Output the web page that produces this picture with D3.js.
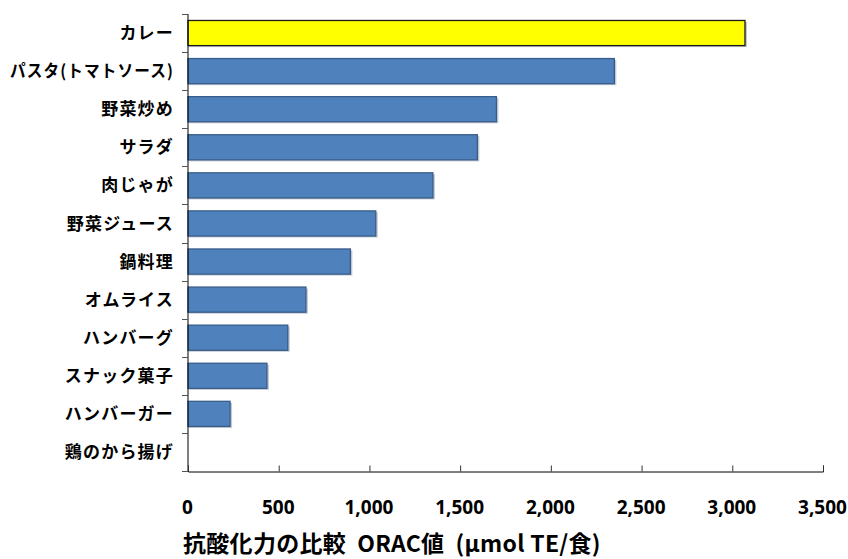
<!DOCTYPE html>
<html>
<head>
<meta charset="utf-8">
<script src="https://cdn.jsdelivr.net/npm/d3@7"></script>
<style>
  body { margin: 0; background: #fff; }
  svg { display: block; }
  .cat text { font-family: "Noto Sans CJK JP", sans-serif; font-weight: bold; font-size: 17px; letter-spacing: 1.2px; fill: #000; }
  .num text { font-family: "Open Sans", sans-serif; font-weight: bold; font-size: 19px; fill: #000; }
  .title { font-family: "Noto Sans CJK JP", sans-serif; font-weight: bold; font-size: 23px; letter-spacing: 0.3px; white-space: pre; }
</style>
</head>
<body>
<div id="chart"></div>
<script>
// data
const foods = ["カレー", "パスタ(トマトソース)", "野菜炒め", "サラダ", "肉じゃが", "野菜ジュース",
               "鍋料理", "オムライス", "ハンバーグ", "スナック菓子", "ハンバーガー", "鶏のから揚げ"];
const orac = [3070, 2350, 1700, 1595, 1350, 1035, 895, 650, 550, 435, 232, 0];
const xTicks = [0, 500, 1000, 1500, 2000, 2500, 3000, 3500];
const highlight = "カレー";

const W = 848, H = 559;
const mLeft = 188, mRight = 823, mTop = 14, mBottom = 471;

const svg = d3.select("#chart").append("svg")
    .attr("width", W)
    .attr("height", H);

const x = d3.scaleLinear().domain([0, 3500]).range([mLeft, mRight]);
const y = d3.scaleBand().domain(foods).range([mTop, mBottom]).paddingInner(0.34).paddingOuter(0.17);

// soft shadow behind the bars
svg.append("g").selectAll("rect").data(foods).enter()
    .filter((d, i) => orac[i] > 0)
    .append("rect")
    .attr("x", mLeft + 1)
    .attr("y", d => y(d) + 1.5)
    .attr("width", (d, i) => x(orac[i]) - mLeft + 1)
    .attr("height", y.bandwidth())
    .attr("fill", "#c4cad3");

svg.append("g").selectAll("rect").data(foods).enter()
    .filter((d, i) => orac[i] > 0)
    .append("rect")
    .attr("x", mLeft)
    .attr("y", d => y(d))
    .attr("width", (d, i) => x(orac[i]) - mLeft)
    .attr("height", y.bandwidth())
    .attr("fill", d => d == highlight ? "#ffff00" : "#4f81bd")
    .attr("stroke", d => d == highlight ? "#1a1a1a" : "#385d8a")
    .attr("stroke-width", 1.3);

// y axis: ticks on band boundaries
const yax = svg.append("g").attr("class", "cat");
yax.append("line")
    .attr("x1", mLeft).attr("x2", mLeft)
    .attr("y1", mTop).attr("y2", mBottom)
    .attr("stroke", "#000").attr("stroke-width", 1);
const bounds = foods.map(d => y(d) - y.step() * y.paddingInner() / 2).concat([mBottom]);
yax.selectAll(".tk").data(bounds).enter().append("line")
    .attr("x1", mLeft - 6).attr("x2", mLeft)
    .attr("y1", d => Math.round(d) + 0.5).attr("y2", d => Math.round(d) + 0.5)
    .attr("stroke", "#555");
const labels = yax.selectAll(".lbl").data(foods).enter().append("text")
    .attr("x", 174)
    .attr("y", d => y(d) + y.bandwidth() / 2)
    .attr("dy", "0.36em")
    .attr("text-anchor", "end")
    .text(d => d);
// the long pasta label is squeezed in the original
labels.each(function () {
    const w = this.getComputedTextLength();
    if (w > 164) d3.select(this).attr("textLength", 164).attr("lengthAdjust", "spacingAndGlyphs");
});

// x axis, ticks pointing inward
const xax = svg.append("g").attr("class", "num")
    .attr("transform", "translate(0," + (mBottom + 0.5) + ")")
    .call(d3.axisBottom(x).tickValues(xTicks).tickSize(-6).tickPadding(0)
        .tickFormat(d3.format(",")));
xax.select(".domain").attr("stroke", "#000");
xax.selectAll(".tick line").attr("stroke", "#333");
xax.selectAll(".tick text").attr("y", 42).attr("dy", 0).attr("dx", -1);

svg.append("text")
    .attr("class", "title")
    .attr("x", 183)
    .attr("y", 552)
    .text("抗酸化力の比較  ORAC値  (μmol TE/食)");
</script>
</body>
</html>
